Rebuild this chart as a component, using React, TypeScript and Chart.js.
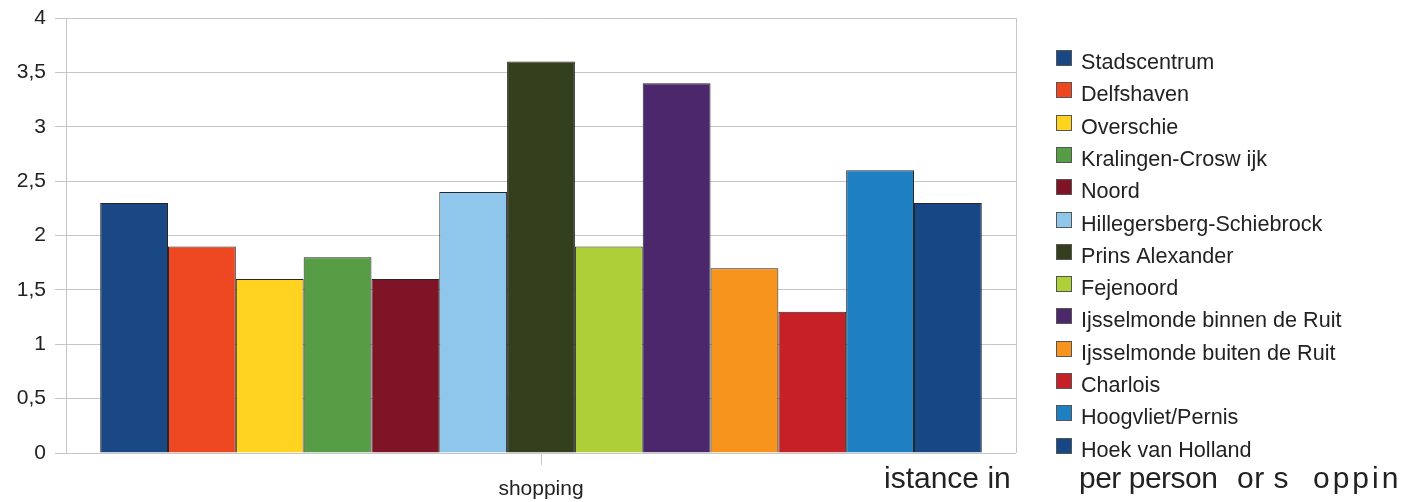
import React, { useEffect, useRef } from "react";
import { Chart, registerables } from "chart.js";

Chart.register(...registerables);

const categories = ["shopping"];
const districts = [
  "Stadscentrum",
  "Delfshaven",
  "Overschie",
  "Kralingen-Crosw ijk",
  "Noord",
  "Hillegersberg-Schiebrock",
  "Prins Alexander",
  "Fejenoord",
  "Ijsselmonde binnen de Ruit",
  "Ijsselmonde buiten de Ruit",
  "Charlois",
  "Hoogvliet/Pernis",
  "Hoek van Holland",
];
const values = [2.3, 1.9, 1.6, 1.8, 1.6, 2.4, 3.6, 1.9, 3.4, 1.7, 1.3, 2.6, 2.3];
const colors = [
  "#1A4884",
  "#EE4823",
  "#FFD320",
  "#579D45",
  "#7E1426",
  "#8EC6EC",
  "#343F1E",
  "#AECF38",
  "#4B286C",
  "#F7941E",
  "#C62127",
  "#1E80C3",
  "#184785",
];
const yTicks = [0, 0.5, 1, 1.5, 2, 2.5, 3, 3.5, 4];
const bottomTextParts = ["istance in", "per person", "or s", "oppin"];

const FONT = "'Liberation Sans', Arial, sans-serif";
const TEXT = "#222222";
const GRID = "#c6c6c6";

const extrasPlugin = {
  id: "extras",
  beforeDatasetsDraw(chart: any) {
    const { ctx, chartArea } = chart;
    ctx.save();
    ctx.strokeStyle = GRID;
    ctx.lineWidth = 1;
    ctx.beginPath();
    ctx.moveTo(Math.round(chartArea.right) + 0.5, chartArea.top);
    ctx.lineTo(Math.round(chartArea.right) + 0.5, chartArea.bottom);
    ctx.stroke();
    ctx.restore();
  },
  afterDraw(chart: any) {
    const { ctx } = chart;
    ctx.save();
    // legend
    ctx.font = `21.6px ${FONT}`;
    ctx.textBaseline = "alphabetic";
    chart.data.datasets.forEach((ds: any, i: number) => {
      const top = 50 + i * 32.3;
      const bx = 1056;
      ctx.fillStyle = ds.backgroundColor;
      ctx.fillRect(bx, Math.round(top), 16, 16);
      ctx.strokeStyle = "#555555";
      ctx.lineWidth = 1;
      ctx.strokeRect(bx + 0.5, Math.round(top) + 0.5, 15, 15);
      ctx.fillStyle = TEXT;
      ctx.fillText(ds.label, 1081, top + 19);
    });
    // bottom text fragments
    ctx.font = `30px ${FONT}`;
    ctx.fillStyle = TEXT;
    const xs = [884, 1079, 1237, 1313];
    const spacing = ["0px", "-0.5px", "0.5px", "3px"];
    bottomTextParts.forEach((t, i) => {
      (ctx as any).letterSpacing = spacing[i];
      ctx.fillText(t, xs[i], 488);
    });
    (ctx as any).letterSpacing = "0px";
    ctx.restore();
  },
};

export default function App() {
  const ref = useRef<HTMLCanvasElement>(null);
  useEffect(() => {
    document.body.style.margin = "0";
    const canvas = ref.current!;
    const chart = new Chart(canvas, {
      type: "bar",
      data: {
        labels: categories,
        datasets: districts.map((name, i) => ({
          label: name,
          data: [values[i]],
          backgroundColor: colors[i],
          borderColor: "#262626",
          borderWidth: 1,
          categoryPercentage: 0.928,
          barPercentage: 1,
        })),
      },
      options: {
        animation: false,
        responsive: false,
        layout: { padding: { top: 18, right: 391, bottom: 0, left: 0 } },
        plugins: {
          legend: { display: false },
          tooltip: { enabled: false },
          title: { display: false },
        },
        scales: {
          x: {
            afterFit: (s: any) => {
              s.height = 49;
              s.paddingLeft = 0;
              s.paddingRight = 0;
            },
            grid: {
              display: true,
              drawOnChartArea: false,
              drawTicks: true,
              tickLength: 12,
              color: GRID,
              offset: false,
            },
            border: { display: false },
            ticks: {
              font: { family: FONT, size: 21 },
              color: TEXT,
              padding: 12,
            },
          },
          y: {
            min: 0,
            max: 4,
            afterFit: (s: any) => {
              s.width = 66;
              s.paddingTop = 0;
              s.paddingBottom = 0;
            },
            afterBuildTicks: (s: any) => {
              s.ticks = yTicks.map((v) => ({ value: v }));
            },
            grid: {
              color: GRID,
              tickLength: 11,
            },
            border: { display: true, color: GRID },
            ticks: {
              font: { family: FONT, size: 21 },
              color: TEXT,
              padding: 9,
              callback: (v: any) => String(v).replace(".", ","),
            },
          },
        },
      },
      plugins: [extrasPlugin],
    });
    return () => chart.destroy();
  }, []);
  return (
    <div style={{ width: 1407, height: 502, background: "#ffffff" }}>
      <canvas ref={ref} width={1407} height={502} />
    </div>
  );
}
